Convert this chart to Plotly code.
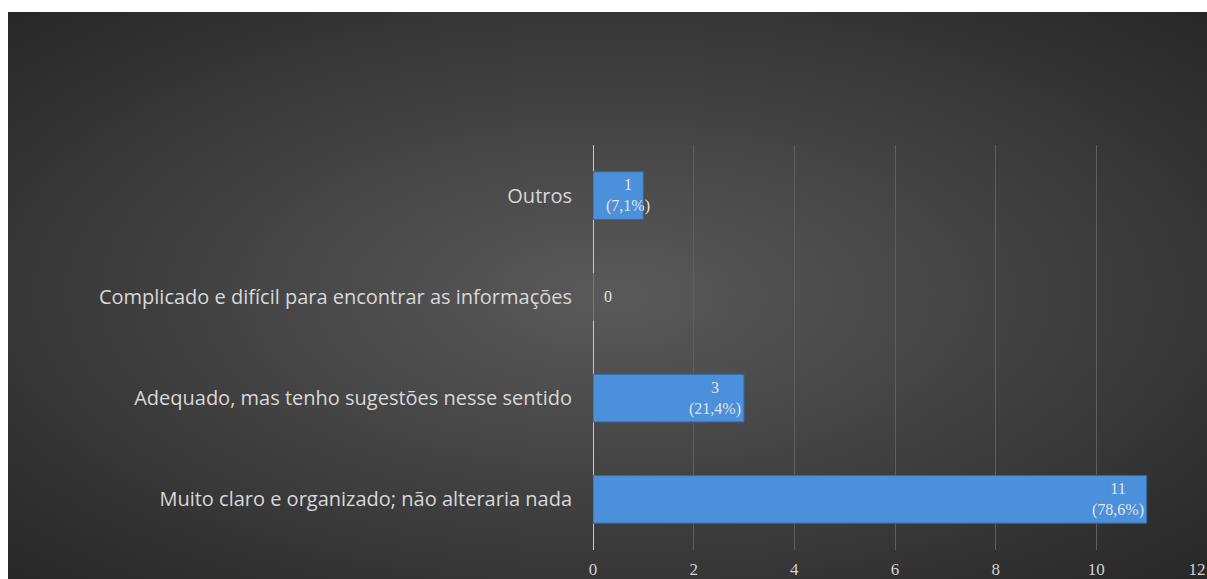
import base64
import plotly.graph_objects as go

categories = ["Muito claro e organizado; não alteraria nada",
              "Adequado, mas tenho sugestões nesse sentido",
              "Complicado e difícil para encontrar as informações",
              "Outros"]
values = [11, 3, 0, 1]
percents = ["78,6%", "21,4%", None, "7,1%"]
tick_vals = [0, 2, 4, 6, 8, 10, 12]

W, H = 1207, 579
L, R, T, B = 593, 10, 145, 29
pw, ph = W - L - R, H - T - B

svg = ('<svg xmlns="http://www.w3.org/2000/svg" width="1199" height="567">'
       '<defs><radialGradient id="g" cx="0.5" cy="0.5" r="0.75" fx="0.5" fy="0.5">'
       '<stop offset="0" stop-color="#5a5a5a"/><stop offset="1" stop-color="#242424"/>'
       '</radialGradient></defs><rect width="1199" height="567" fill="url(#g)"/></svg>')
src = "data:image/svg+xml;base64," + base64.b64encode(svg.encode()).decode()

fig = go.Figure()
fig.add_trace(go.Bar(
    y=categories, x=values, orientation="h", width=0.47,
    marker=dict(color="#4a90da", line=dict(color="#2f6aa8", width=1)),
    hoverinfo="skip"))

lab_font = dict(family="Liberation Serif", size=16, color="#e4e4e4")
annotations = []
for c, v, p in zip(categories, values, percents):
    if v > 0:
        annotations.append(dict(x=v, y=c, xref="x", yref="y", text=f"{v}<br>({p})",
                                showarrow=False, xanchor="right", align="center",
                                xshift=9 if v < 2 else -1, font=lab_font))
    else:
        annotations.append(dict(x=v, y=c, xref="x", yref="y", text=f"{v}",
                                showarrow=False, xanchor="left", xshift=9, font=lab_font))

fig.update_layout(
    width=W, height=H,
    margin=dict(l=L, r=R, t=T, b=B, pad=0),
    paper_bgcolor="white", plot_bgcolor="rgba(0,0,0,0)",
    showlegend=False,
    annotations=annotations,
    images=[dict(source=src, xref="paper", yref="paper",
                 x=(8 - L) / pw, y=(H - B - 12) / ph,
                 sizex=(W - 8) / pw, sizey=(H - 12) / ph,
                 xanchor="left", yanchor="top", sizing="stretch", layer="below")],
    xaxis=dict(range=[0, 12], tickvals=tick_vals, showgrid=True, gridcolor="#5e5e5e",
               gridwidth=1, zeroline=True, zerolinecolor="#c8c8c8", zerolinewidth=1,
               showline=False, ticks="", automargin=False, ticklabelstandoff=7,
               tickfont=dict(family="Liberation Serif", size=17, color="#d2d2d2")),
    yaxis=dict(range=[-0.5, 3.5], showgrid=False, zeroline=False, showline=False,
               ticks="", ticklabelstandoff=20, automargin=False,
               tickfont=dict(family="Open Sans", size=20, color="#d8d8d8")),
)
fig.write_html("out.html")
